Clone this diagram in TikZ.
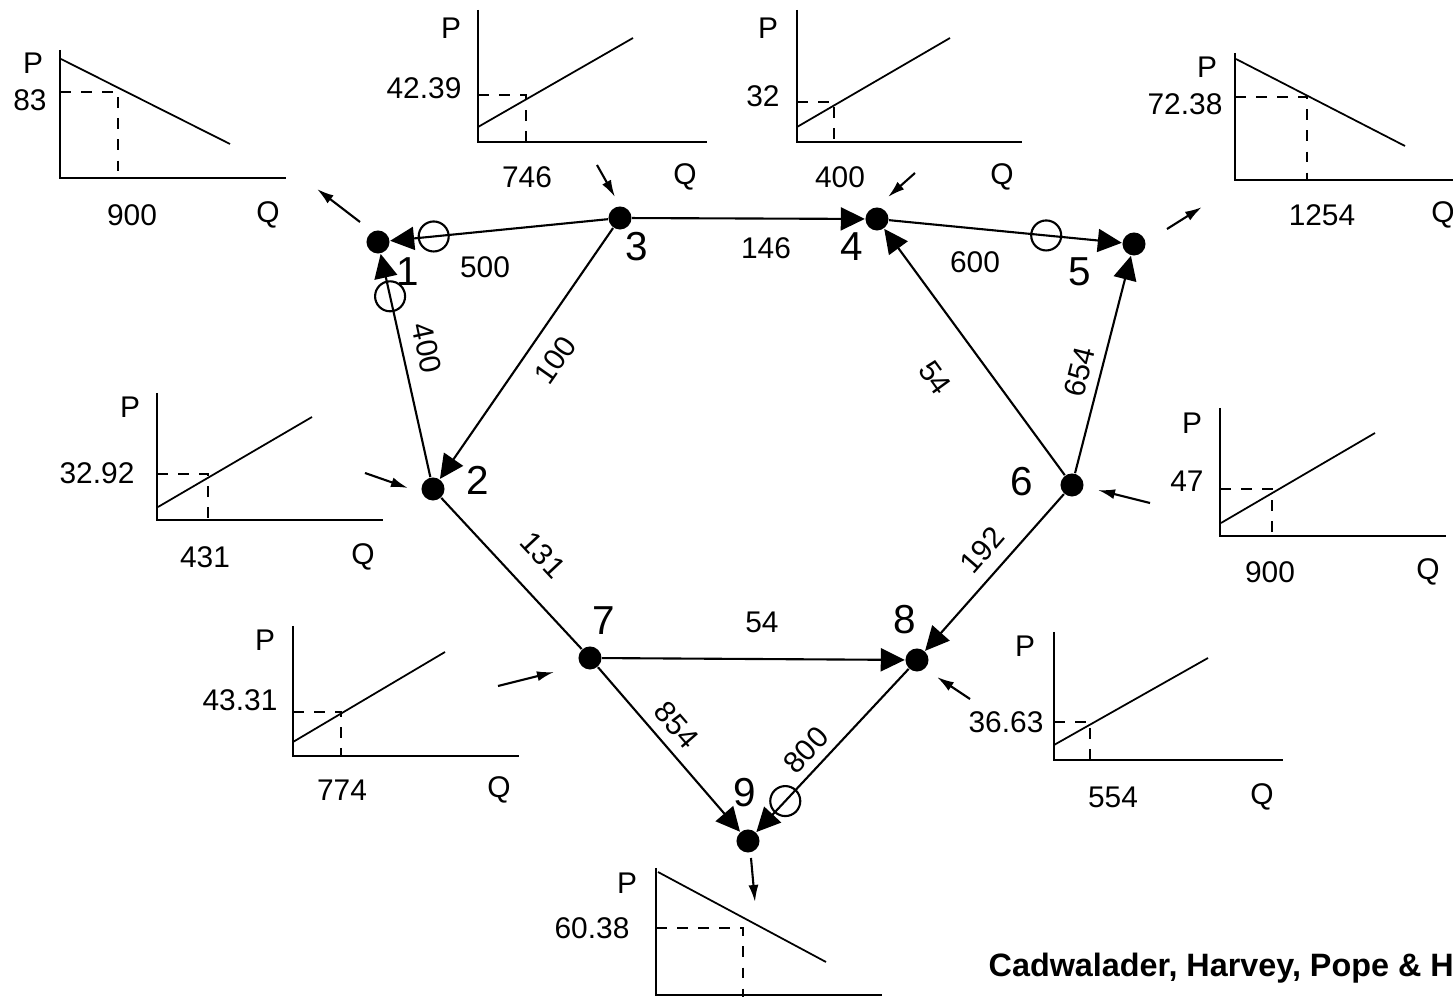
\documentclass[tikz,border=0pt]{standalone}
\usepackage{fontspec}
\setmainfont{Liberation Sans}
\usetikzlibrary{arrows.meta}

\begin{document}
\begin{tikzpicture}[
    x=0.01cm, y=-0.01cm,
    junc/.style={circle, fill=black, inner sep=0pt, minimum size=2.3mm},
    valve/.style={circle, draw, semithick, inner sep=0pt, minimum size=3mm},
    num/.style={font=\fontsize{11.5}{13}\selectfont, inner sep=0pt},
    lbl/.style={font=\fontsize{8.5}{10}\selectfont, inner sep=0pt},
    pipe/.style={-{Triangle[length=2.4mm, width=2.3mm]}, semithick},
    flow/.style={-{Latex[length=1.7mm, width=1mm]}, semithick},
    pqaxis/.style={thick},
    pqcurve/.style={line width=0.5pt},
    guide/.style={dashed, semithick}
]
\useasboundingbox (0,0) rectangle (1453,997);
\clip (0,0) rectangle (1453,997);

% Network nodes
\node[junc] (n1) at (378,242) {};
\node[junc] (n2) at (433,489) {};
\node[junc] (n3) at (620,218) {};
\node[junc] (n4) at (877,219) {};
\node[junc] (n5) at (1134,244) {};
\node[junc] (n6) at (1072,485) {};
\node[junc] (n7) at (590,658) {};
\node[junc] (n8) at (917,660) {};
\node[junc] (n9) at (748,841) {};

\node[num] (t1) at (408,272) {1};
\node[num] (t2) at (478,480) {2};
\node[num] (t3) at (637,247) {3};
\node[num] (t4) at (852,247) {4};
\node[num] (t5) at (1080,272) {5};
\node[num] (t6) at (1022,482) {6};
\node[num] (t7) at (604,621) {7};
\node[num] (t8) at (905,620) {8};
\node[num] (t9) at (745,793) {9};

% Links
\draw[pipe] (n3) -- node[valve, pos=0.8] (v13) {} (n1);
\draw[pipe] (n2) -- node[valve, pos=0.81] (v12) {} (n1);
\draw[pipe] (n3) -- (n2);
\draw[pipe] (n3) -- (n4);
\draw[pipe] (n4) -- node[valve, pos=0.675] (v45) {} (n5);
\draw[pipe] (n6) -- (n4);
\draw[pipe] (n6) -- (n5);
\draw[semithick] (n2) -- (n7);
\draw[pipe] (n7) -- (n8);
\draw[pipe] (n6) -- (n8);
\draw[pipe] (n7) -- (n9);
\draw[pipe] (n8) -- node[valve, pos=0.81] (v89) {} (n9);

\node[lbl, rotate=-78] (w12) at (427,348) {400};
\node[lbl] (w13) at (485,267) {500};
\node[lbl, rotate=55] (w23) at (555,360) {100};
\node[lbl] (w34) at (766,248) {146};
\node[lbl] (w45) at (975,262) {600};
\node[lbl, rotate=-54] (w46) at (935,378) {54};
\node[lbl, rotate=76] (w56) at (1080,372) {654};
\node[lbl, rotate=-47] (w27) at (543,555) {131};
\node[lbl, rotate=49] (w68) at (982,550) {192};
\node[lbl] (w78) at (762,622) {54};
\node[lbl, rotate=-49] (w79) at (677,725) {854};
\node[lbl, rotate=47] (w89) at (806,750) {800};

% Supply and demand arrows
\coordinate (f1a) at (360,222); \coordinate (f1b) at (317,189);
\coordinate (f2a) at (365,473); \coordinate (f2b) at (408,488);
\coordinate (f3a) at (597,165); \coordinate (f3b) at (615,197);
\coordinate (f4a) at (915,173); \coordinate (f4b) at (888,197);
\coordinate (f5a) at (1167,229); \coordinate (f5b) at (1202,207);
\coordinate (f6a) at (1150,503); \coordinate (f6b) at (1098,490);
\coordinate (f7a) at (498,686); \coordinate (f7b) at (554,672);
\coordinate (f8a) at (970,699); \coordinate (f8b) at (937,677);
\coordinate (f9a) at (751,858); \coordinate (f9b) at (755,902);
\draw[flow] (f1a) -- (f1b);
\draw[flow] (f2a) -- (f2b);
\draw[flow] (f3a) -- (f3b);
\draw[flow] (f4a) -- (f4b);
\draw[flow] (f5a) -- (f5b);
\draw[flow] (f6a) -- (f6b);
\draw[flow] (f7a) -- (f7b);
\draw[flow] (f8a) -- (f8b);
\draw[flow] (f9a) -- (f9b);

% Plot at node 1
\draw[pqaxis] (60,50) -- (60,178) -- (286,178);
\draw[pqcurve] (61,59) -- (230,144);
\draw[guide] (60,92) -- (118,92) -- (118,178);
\node[lbl] (p1P) at (33,63) {P};
\node[lbl] (p1v) at (30,100) {83};
\node[lbl] (p1q) at (132,215) {900};
\node[lbl] (p1Q) at (268,215) {Q};

% Plot at node 3
\draw[pqaxis] (478,10) -- (478,142) -- (707,142);
\draw[pqcurve] (478,127) -- (633,38);
\draw[guide] (478,95) -- (526,95) -- (526,142);
\node[lbl] (p3P) at (451,28) {P};
\node[lbl] (p3v) at (424,88) {42.39};
\node[lbl] (p3q) at (527,177) {746};
\node[lbl] (p3Q) at (685,177) {Q};

% Plot at node 4
\draw[pqaxis] (797,10) -- (797,142) -- (1022,142);
\draw[pqcurve] (797,127) -- (950,38);
\draw[guide] (797,102) -- (834,102) -- (834,142);
\node[lbl] (p4P) at (768,28) {P};
\node[lbl] (p4v) at (763,96) {32};
\node[lbl] (p4q) at (840,177) {400};
\node[lbl] (p4Q) at (1002,177) {Q};

% Plot at node 5
\draw[pqaxis] (1235,53) -- (1235,180) -- (1460,180);
\draw[pqcurve] (1236,59) -- (1405,146);
\draw[guide] (1235,97) -- (1307,97) -- (1307,180);
\node[lbl] (p5P) at (1207,67) {P};
\node[lbl] (p5v) at (1185,104) {72.38};
\node[lbl] (p5q) at (1322,215) {1254};
\node[lbl] (p5Q) at (1443,215) {Q};

% Plot at node 2
\draw[pqaxis] (157,393) -- (157,520) -- (383,520);
\draw[pqcurve] (158,507) -- (312,417);
\draw[guide] (157,474) -- (208,474) -- (208,520);
\node[lbl] (p2P) at (130,407) {P};
\node[lbl] (p2v) at (97,473) {32.92};
\node[lbl] (p2q) at (205,557) {431};
\node[lbl] (p2Q) at (363,557) {Q};

% Plot at node 6
\draw[pqaxis] (1220,408) -- (1220,536) -- (1446,536);
\draw[pqcurve] (1221,523) -- (1375,433);
\draw[guide] (1220,489) -- (1272,489) -- (1272,536);
\node[lbl] (p6P) at (1192,423) {P};
\node[lbl] (p6v) at (1187,481) {47};
\node[lbl] (p6q) at (1270,572) {900};
\node[lbl] (p6Q) at (1428,572) {Q};

% Plot at node 7
\draw[pqaxis] (293,626) -- (293,756) -- (519,756);
\draw[pqcurve] (293,742) -- (445,652);
\draw[guide] (293,712) -- (341,712) -- (341,756);
\node[lbl] (p7P) at (265,640) {P};
\node[lbl] (p7v) at (240,700) {43.31};
\node[lbl] (p7q) at (342,790) {774};
\node[lbl] (p7Q) at (499,790) {Q};

% Plot at node 8
\draw[pqaxis] (1054,632) -- (1054,760) -- (1283,760);
\draw[pqcurve] (1054,745) -- (1208,658);
\draw[guide] (1054,722) -- (1090,722) -- (1090,760);
\node[lbl] (p8P) at (1025,646) {P};
\node[lbl] (p8v) at (1006,722) {36.63};
\node[lbl] (p8q) at (1113,797) {554};
\node[lbl] (p8Q) at (1262,797) {Q};

% Plot at node 9
\draw[pqaxis] (656,868) -- (656,995) -- (882,995);
\draw[pqcurve] (658,872) -- (826,962);
\draw[guide] (656,928) -- (743,928) -- (743,997);
\node[lbl] (p9P) at (627,883) {P};
\node[lbl] (p9v) at (592,928) {60.38};

\node[font=\fontsize{9.2}{11}\selectfont\bfseries, anchor=west, inner sep=0pt] (credit) at (988,968) {Cadwalader, Harvey, Pope \& H};

\end{tikzpicture}
\end{document}
